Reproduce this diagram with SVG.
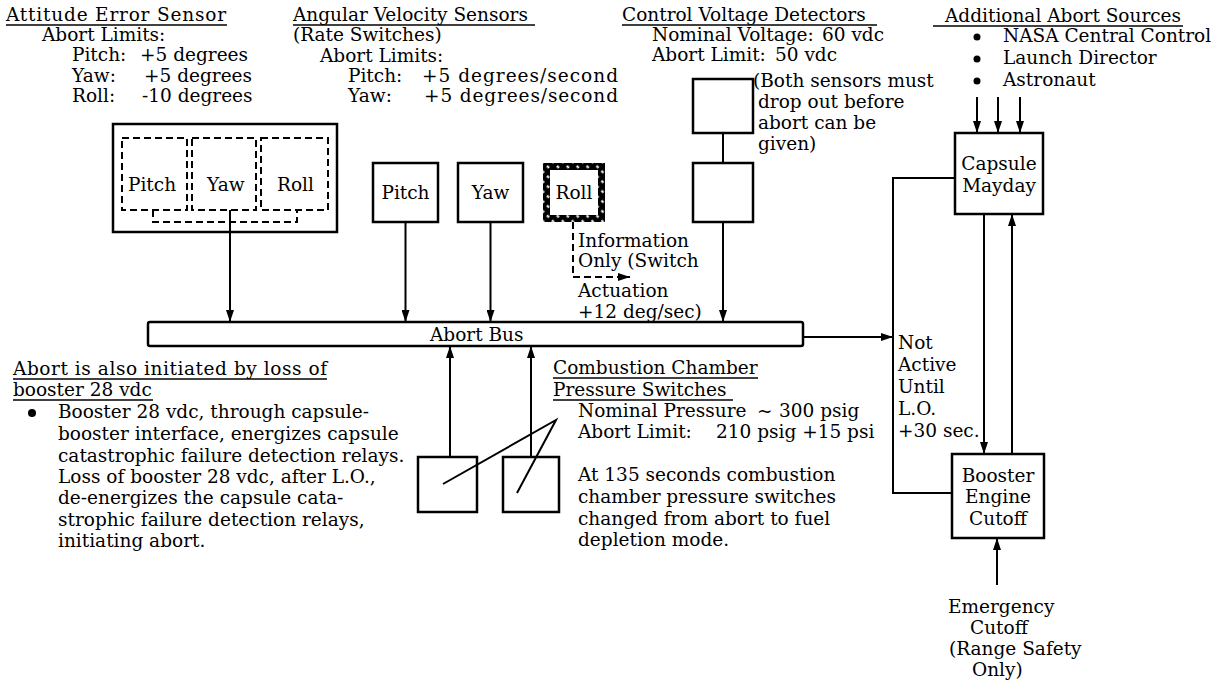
<svg xmlns="http://www.w3.org/2000/svg" width="1227" height="683" viewBox="0 0 1227 683">
<style>
text{font-family:"DejaVu Serif","Liberation Serif",serif;font-size:18.5px;fill:#000}
.c{text-anchor:middle}
.box{fill:#fff;stroke:#000;stroke-width:2.5}
.dash{fill:none;stroke:#000;stroke-width:2;stroke-dasharray:7,4}
.ln{fill:none;stroke:#000;stroke-width:2}
.ul{stroke:#000;stroke-width:1.5}
</style>
<defs>
<marker id="ah" viewBox="0 0 12 8" refX="12" refY="4" markerWidth="12" markerHeight="8" markerUnits="userSpaceOnUse" orient="auto"><path d="M0,0 L12,4 L0,8 z" fill="#000"/></marker>
<pattern id="hatch" width="7" height="7" patternUnits="userSpaceOnUse" patternTransform="rotate(45)"><rect width="7" height="7" fill="#000"/><line x1="0" y1="3.5" x2="3" y2="3.5" stroke="#fff" stroke-width="2"/></pattern>
</defs>
<rect width="1227" height="683" fill="#fff"/>

<g id="attitude-notes">
<text x="6" y="21" textLength="220">Attitude Error Sensor</text><line class="ul" x1="6" y1="25" x2="227" y2="25"/>
<text x="42" y="41">Abort Limits:</text>
<text x="72" y="61">Pitch:<tspan x="140">+5 degrees</tspan></text>
<text x="72" y="82">Yaw:<tspan x="144">+5 degrees</tspan></text>
<text x="72" y="102">Roll:<tspan x="142">-10 degrees</tspan></text>
</g>
<g id="rate-notes">
<text x="293" y="21">Angular Velocity Sensors</text><line class="ul" x1="293" y1="25" x2="535" y2="25"/>
<text x="293" y="41">(Rate Switches)</text>
<text x="320" y="62">Abort Limits:</text>
<text x="348" y="82">Pitch:<tspan x="422" textLength="196">+5 degrees/second</tspan></text>
<text x="348" y="102">Yaw:<tspan x="424" textLength="194">+5 degrees/second</tspan></text>
</g>
<g id="voltage-notes">
<text x="622" y="21">Control Voltage Detectors</text><line class="ul" x1="622" y1="25" x2="877" y2="25"/>
<text x="652" y="41">Nominal Voltage:<tspan x="822">60 vdc</tspan></text>
<text x="652" y="61">Abort Limit:<tspan x="775">50 vdc</tspan></text>
<text x="753" y="87">(Both sensors must</text>
<text x="758" y="108">drop out before</text>
<text x="758" y="129">abort can be</text>
<text x="758" y="150">given)</text>
</g>
<g id="additional-sources">
<text x="945" y="22">Additional Abort Sources</text><line class="ul" x1="933" y1="26" x2="1183" y2="26"/>
<circle cx="977" cy="37" r="3.5"/><circle cx="977" cy="59" r="3.5"/><circle cx="977" cy="81" r="3.5"/>
<text x="1003" y="42">NASA Central Control</text>
<text x="1003" y="64">Launch Director</text>
<text x="1003" y="86">Astronaut</text>
</g>

<g id="attitude-sensor">
<rect class="box" x="113" y="124" width="224" height="108" stroke-width="2"/>
<rect class="dash" x="122" y="138" width="65" height="72"/>
<rect class="dash" x="192" y="138" width="64" height="72"/>
<rect class="dash" x="261" y="138" width="67" height="72"/>
<polyline class="dash" points="153,210 153,222 297,222 297,210"/>
<text x="128" y="191">Pitch</text><text x="207" y="191">Yaw</text><text x="277" y="191">Roll</text>
</g>
<g id="rate-pitch"><rect class="box" x="373" y="163" width="65" height="59"/><text class="c" x="405.5" y="199">Pitch</text></g>
<g id="rate-yaw"><rect class="box" x="458" y="163" width="65" height="59"/><text class="c" x="490.5" y="199">Yaw</text></g>
<g id="rate-roll"><rect x="543" y="163" width="62" height="59" fill="url(#hatch)"/><rect x="550" y="170" width="48" height="45" fill="#fff"/><text class="c" x="574" y="199">Roll</text></g>
<g id="voltage-1"><rect class="box" x="693" y="79" width="60" height="54"/></g>
<g id="voltage-2"><rect class="box" x="693" y="163" width="60" height="59"/></g>
<g id="abort-bus"><rect class="box" x="148" y="322" width="655" height="24" rx="2"/><text x="430" y="341">Abort Bus</text></g>
<g id="pressure-1"><rect class="box" x="418" y="457" width="59" height="55"/></g>
<g id="pressure-2"><rect class="box" x="503" y="457" width="56" height="55"/></g>
<g id="capsule-mayday"><rect class="box" x="955" y="133" width="88" height="81"/><text class="c" x="999" y="170">Capsule</text><text class="c" x="999" y="192">Mayday</text></g>
<g id="booster-cutoff"><rect class="box" x="952" y="454" width="92" height="84"/><text class="c" x="998" y="482">Booster</text><text class="c" x="998" y="503">Engine</text><text class="c" x="998" y="525">Cutoff</text></g>

<g id="connectors">
<line class="ln" x1="230" y1="210" x2="230" y2="322" marker-end="url(#ah)"/>
<line class="ln" x1="405.5" y1="222" x2="405.5" y2="322" marker-end="url(#ah)"/>
<line class="ln" x1="490.5" y1="222" x2="490.5" y2="322" marker-end="url(#ah)"/>
<polyline class="dash" points="573,222 573,277 620,277"/>
<line class="ln" x1="618" y1="277" x2="630" y2="277" marker-end="url(#ah)"/>
<line class="ln" x1="723" y1="133" x2="723" y2="163"/>
<line class="ln" x1="723" y1="222" x2="723" y2="322" marker-end="url(#ah)"/>
<line class="ln" x1="450" y1="457" x2="450" y2="346" marker-end="url(#ah)"/>
<line class="ln" x1="531" y1="457" x2="531" y2="346" marker-end="url(#ah)"/>
<polyline class="ln" points="443,484 556,420 517,493" stroke-width="2.5"/>
<line class="ln" x1="803" y1="337" x2="893" y2="337" marker-end="url(#ah)"/>
<polyline class="ln" points="955,178 893,178 893,493 952,493"/>
<line class="ln" x1="977" y1="97" x2="977" y2="133" marker-end="url(#ah)"/>
<line class="ln" x1="998" y1="97" x2="998" y2="133" marker-end="url(#ah)"/>
<line class="ln" x1="1020" y1="97" x2="1020" y2="133" marker-end="url(#ah)"/>
<line class="ln" x1="984" y1="214" x2="984" y2="454" marker-end="url(#ah)"/>
<line class="ln" x1="1012" y1="454" x2="1012" y2="214" marker-end="url(#ah)"/>
<line class="ln" x1="997" y1="585" x2="997" y2="538" marker-end="url(#ah)"/>
</g>

<g id="info-note">
<text x="578" y="247">Information</text>
<text x="578" y="267">Only (Switch</text>
<text x="578" y="297">Actuation</text>
<text x="578" y="318">+12 deg/sec)</text>
</g>
<g id="not-active-note">
<text x="898" y="349">Not</text>
<text x="898" y="371">Active</text>
<text x="898" y="393">Until</text>
<text x="898" y="415">L.O.</text>
<text x="898" y="437">+30 sec.</text>
</g>
<g id="booster-note">
<text x="13" y="375" textLength="314">Abort is also initiated by loss of</text><line class="ul" x1="13" y1="379" x2="327" y2="379"/>
<text x="13" y="396">booster 28 vdc</text><line class="ul" x1="13" y1="400" x2="153" y2="400"/>
<circle cx="32" cy="413" r="4"/>
<text x="58" y="418">Booster 28 vdc, through capsule-</text>
<text x="58" y="440">booster interface, energizes capsule</text>
<text x="58" y="462">catastrophic failure detection relays.</text>
<text x="58" y="483">Loss of booster 28 vdc, after L.O.,</text>
<text x="58" y="504">de-energizes the capsule cata-</text>
<text x="58" y="526">strophic failure detection relays,</text>
<text x="58" y="547">initiating abort.</text>
</g>
<g id="pressure-note">
<text x="553" y="374">Combustion Chamber</text><line class="ul" x1="553" y1="378" x2="758" y2="378"/>
<text x="553" y="396">Pressure Switches</text><line class="ul" x1="553" y1="400" x2="733" y2="400"/>
<text x="578" y="417">Nominal Pressure<tspan x="757">~</tspan><tspan x="779">300 psig</tspan></text>
<text x="578" y="438">Abort Limit:<tspan x="716">210 psig +15 psi</tspan></text>
<text x="578" y="481">At 135 seconds combustion</text>
<text x="578" y="503">chamber pressure switches</text>
<text x="578" y="525">changed from abort to fuel</text>
<text x="578" y="546">depletion mode.</text>
</g>
<g id="emergency-note">
<text x="948" y="613">Emergency</text>
<text x="970" y="634">Cutoff</text>
<text x="949" y="655">(Range Safety</text>
<text x="972" y="676">Only)</text>
</g>
</svg>
